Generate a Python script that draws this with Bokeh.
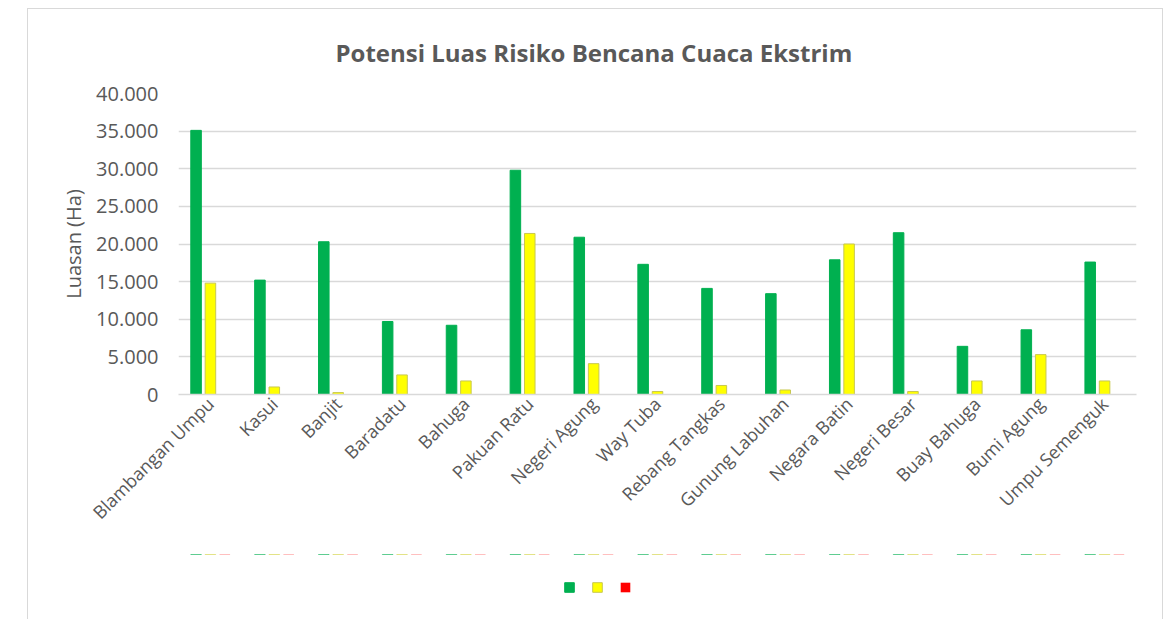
from bokeh.plotting import figure
from bokeh.layouts import column
from bokeh.models import (FactorRange, Range1d, FixedTicker, Legend, LegendItem,
                          ColumnDataSource)
from bokeh.transform import dodge
from bokeh.core.properties import value
from bokeh.embed import file_html
from bokeh.resources import INLINE

categories = ["Blambangan Umpu", "Kasui", "Banjit", "Baradatu", "Bahuga",
              "Pakuan Ratu", "Negeri Agung", "Way Tuba", "Rebang Tangkas",
              "Gunung Labuhan", "Negara Batin", "Negeri Besar", "Buay Bahuga",
              "Bumi Agung", "Umpu Semenguk"]
green_values = [35100, 15200, 20300, 9700, 9200, 29800, 20900, 17300, 14100,
                13400, 17900, 21500, 6400, 8600, 17600]
yellow_values = [14800, 1000, 250, 2600, 1800, 21400, 4100, 400, 1200,
                 600, 20000, 400, 1800, 5300, 1800]
red_values = [0, 0, 0, 0, 0, 0, 0, 0, 0, 0, 0, 0, 0, 0, 0]
y_ticks = [0, 5000, 10000, 15000, 20000, 25000, 30000, 35000, 40000]
y_tick_labels = ["0", "5.000", "10.000", "15.000", "20.000", "25.000",
                 "30.000", "35.000", "40.000"]

TXT = "#595959"
FONT = "Open Sans"
GREEN, YELLOW, RED = "#00B050", "#FFFF00", "#FF0000"

source = ColumnDataSource(dict(cat=categories, green=green_values,
                               yellow=yellow_values, red=red_values))

# ---------------- main chart ----------------
p = figure(x_range=FactorRange(*categories), y_range=Range1d(0, 40000),
           width=1134, height=545, output_backend="svg", toolbar_location=None,
           min_border_left=150, min_border_right=26, min_border_top=84,
           min_border_bottom=160)
p.outline_line_color = None
p.background_fill_color = "white"
p.border_fill_color = "white"

p.title.text = "Potensi Luas Risiko Bencana Cuaca Ekstrim"
p.title.align = "left"
p.title.text_font = FONT
p.title.text_font_size = "24px"
p.title.text_font_style = "bold"
p.title.text_color = TXT
p.title.standoff = 49
p.title.offset = 157

p.vbar(x=dodge("cat", -0.225, range=p.x_range), top="green", width=0.165,
       source=source, fill_color=GREEN, line_color=GREEN)
p.vbar(x=dodge("cat", 0.0, range=p.x_range), top="yellow", width=0.165,
       source=source, fill_color=YELLOW, line_color="#C8C850")
p.vbar(x=dodge("cat", 0.225, range=p.x_range), top="red", width=0.165,
       source=source, fill_color=RED, line_color=None)

p.xgrid.grid_line_color = None
p.ygrid.grid_line_color = "#d9d9d9"
p.ygrid.grid_line_width = 1.3

p.yaxis.ticker = FixedTicker(ticks=y_ticks)
p.yaxis.major_label_overrides = dict(zip(y_ticks, y_tick_labels))
p.yaxis.axis_line_color = None
p.yaxis.major_tick_line_color = None
p.yaxis.minor_tick_line_color = None
p.yaxis.major_tick_out = 0
p.yaxis.major_tick_in = 0
p.yaxis.major_label_standoff = 20
p.yaxis.major_label_text_font = FONT
p.yaxis.major_label_text_font_size = "20px"
p.yaxis.major_label_text_color = TXT
p.yaxis.axis_label = "Luasan (Ha)"
p.yaxis.axis_label_text_font = FONT
p.yaxis.axis_label_text_font_size = "20px"
p.yaxis.axis_label_text_font_style = "normal"
p.yaxis.axis_label_text_color = TXT
p.yaxis.axis_label_standoff = 6

p.xaxis.axis_line_color = "#d9d9d9"
p.xaxis.axis_line_width = 1.3
p.xaxis.major_tick_line_color = None
p.xaxis.minor_tick_line_color = None
p.xaxis.major_tick_out = 0
p.xaxis.major_tick_in = 0
p.xaxis.major_label_orientation = 0.7854
p.xaxis.major_label_standoff = 6
p.xaxis.major_label_text_font = FONT
p.xaxis.major_label_text_font_size = "18px"
p.xaxis.major_label_text_color = TXT

# ---------------- legend strip (own frame, so nothing is clipped) ----------------
p2 = figure(x_range=p.x_range, y_range=Range1d(-2, -1), width=1134, height=65,
            output_backend="svg", toolbar_location=None,
            x_axis_type=None, y_axis_type=None,
            min_border_left=150, min_border_right=26, min_border_top=0,
            min_border_bottom=0)
p2.outline_line_color = None
p2.background_fill_color = "white"
p2.border_fill_color = "white"
p2.title.visible = False

lg = p2.vbar(x=dodge("cat", -0.225, range=p2.x_range), top="green", width=0.165,
             source=source, fill_color=GREEN, line_color=GREEN)
ly = p2.vbar(x=dodge("cat", 0.0, range=p2.x_range), top="yellow", width=0.165,
             source=source, fill_color=YELLOW, line_color="#C8C850")
lr = p2.vbar(x=dodge("cat", 0.225, range=p2.x_range), top="red", width=0.165,
             source=source, fill_color=RED, line_color=None)

legend = Legend(items=[LegendItem(label=value("."), renderers=[lg]),
                       LegendItem(label=value("."), renderers=[ly]),
                       LegendItem(label=value("."), renderers=[lr])],
                orientation="horizontal", location=(385, 26),
                glyph_width=12, glyph_height=12, label_standoff=0,
                label_width=2, spacing=14, padding=0, margin=0,
                border_line_color=None, background_fill_alpha=0,
                label_text_font_size="8px", label_text_alpha=0)
p2.add_layout(legend, "center")

root = column(p, p2, spacing=0)
root.margin = (8, 0, 0, 27)
root.styles = {"border-left": "1px solid #d9d9d9", "border-top": "1px solid #d9d9d9",
               "border-right": "1px solid #d9d9d9"}

open("out.html", "w").write(file_html(root, INLINE))
